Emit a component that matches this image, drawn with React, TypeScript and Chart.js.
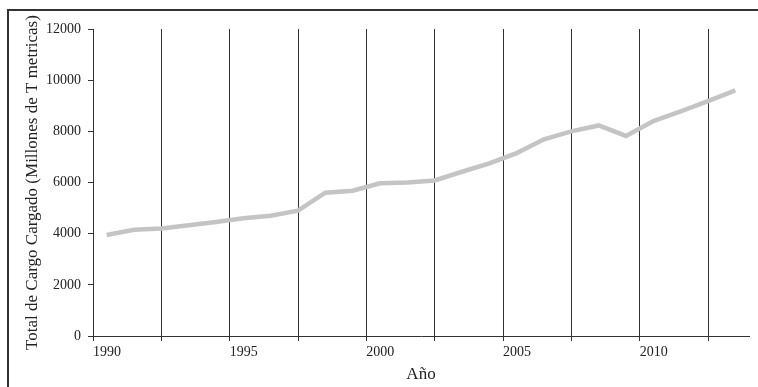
import React, { useEffect, useRef } from "react";
import { Chart, registerables } from "chart.js";

Chart.register(...registerables);

const years = [1990, 1991, 1992, 1993, 1994, 1995, 1996, 1997, 1998, 1999, 2000, 2001, 2002, 2003, 2004, 2005, 2006, 2007, 2008, 2009, 2010, 2011, 2012, 2013];
const cargo = [3950, 4150, 4200, 4330, 4460, 4600, 4700, 4900, 5600, 5680, 5970, 6000, 6080, 6420, 6750, 7150, 7690, 8000, 8230, 7820, 8400, 8780, 9180, 9600];
const xTickValues = [1990, 1992.5, 1995, 1997.5, 2000, 2002.5, 2005, 2007.5, 2010, 2012.5];
const xLabelYears = [1990, 1995, 2000, 2005, 2010];
const yTitle = "Total de Cargo Cargado (Millones de T metricas)";
const xTitle = "Año";

const FONT = "'Liberation Serif', 'DejaVu Serif', serif";
const TXT = "#222";
const AXIS = "#333";

const framePlugin = {
  id: "frame",
  beforeDraw(chart: any) {
    const ctx = chart.ctx;
    ctx.save();
    ctx.fillStyle = "#fff";
    ctx.fillRect(0, 0, chart.width, chart.height);
    ctx.strokeStyle = AXIS;
    ctx.lineWidth = 2;
    ctx.beginPath();
    ctx.moveTo(8, chart.height);
    ctx.lineTo(8, 10);
    ctx.lineTo(chart.width, 10);
    ctx.stroke();
    ctx.restore();
  },
};

export default function App() {
  const ref = useRef<HTMLCanvasElement | null>(null);
  useEffect(() => {
    if (!ref.current) return;
    const chart = new Chart(ref.current, {
      type: "line",
      data: {
        datasets: [
          {
            data: years.map((y, i) => ({ x: y + 0.5, y: cargo[i] })),
            borderColor: "#c4c4c6",
            borderWidth: 4.5,
            pointRadius: 0,
            tension: 0,
            fill: false,
          },
        ],
      },
      options: {
        responsive: false,
        animation: false,
        devicePixelRatio: 1,
        layout: { padding: { top: 29, right: 9, bottom: 0, left: 0 } },
        plugins: { legend: { display: false }, tooltip: { enabled: false } },
        scales: {
          x: {
            type: "linear",
            min: 1990,
            max: 2014,
            afterBuildTicks: (s: any) => {
              s.ticks = xTickValues.map((value) => ({ value }));
            },
            afterFit: (s: any) => {
              s.height = 51;
            },
            grid: { color: AXIS, lineWidth: 1, drawOnChartArea: true, drawTicks: true, tickLength: 5 },
            border: { display: true, color: AXIS, width: 1 },
            ticks: {
              align: "start",
              autoSkip: false,
              maxRotation: 0,
              padding: 3,
              color: TXT,
              font: { family: FONT, size: 14 },
              callback: (v: any) => (xLabelYears.includes(Number(v)) ? String(v) : ""),
            },
            title: { display: true, text: xTitle, color: TXT, font: { family: FONT, size: 17 }, padding: { top: 0, bottom: 2 } },
          },
          y: {
            min: 0,
            max: 12000,
            afterFit: (s: any) => {
              s.width = 93;
            },
            grid: { drawOnChartArea: false, drawTicks: true, tickLength: 5, color: AXIS },
            border: { display: true, color: AXIS, width: 1 },
            ticks: {
              stepSize: 2000,
              padding: 7,
              color: TXT,
              font: { family: FONT, size: 14 },
              callback: (v: any) => String(v),
            },
            title: { display: true, text: yTitle, color: TXT, font: { family: FONT, size: 17 }, padding: { top: 22, bottom: 0 } },
          },
        },
      },
      plugins: [framePlugin],
    } as any);
    return () => chart.destroy();
  }, []);
  return (
    <div style={{ position: "fixed", left: 0, top: 0, width: 758, height: 387, background: "#fff" }}>
      <canvas ref={ref} width={758} height={387} style={{ display: "block" }} />
    </div>
  );
}
